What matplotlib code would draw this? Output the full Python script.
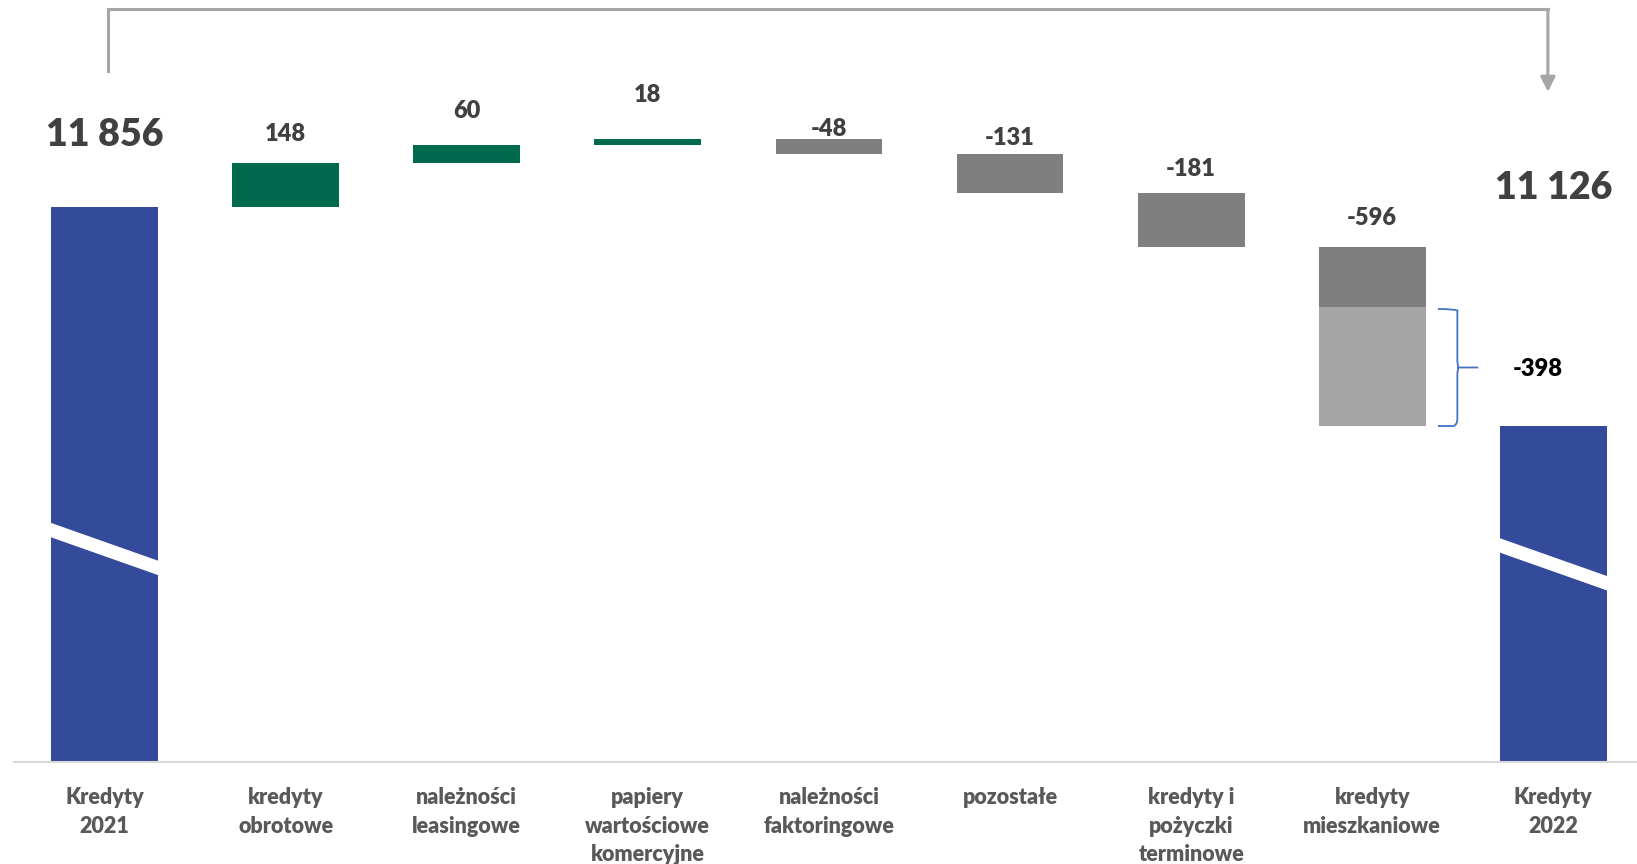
import numpy as np
import matplotlib
matplotlib.use("Agg")
import matplotlib.pyplot as plt
from matplotlib.path import Path
from matplotlib.patches import PathPatch

plt.rcParams['font.family'] = ['Lato', 'DejaVu Sans']

# data
categories = ["Kredyty\n2021", "kredyty\nobrotowe", "należności\nleasingowe",
              "papiery\nwartościowe\nkomercyjne", "należności\nfaktoringowe",
              "pozostałe", "kredyty i\npożyczki\nterminowe", "kredyty\nmieszkaniowe",
              "Kredyty\n2022"]
start_total = 11856
changes = [148, 60, 18, -48, -131, -181, -596]
end_total = 11126
mieszk_part = -398   # lighter part of "kredyty mieszkaniowe"

# style
blue = "#344A9A"
green = "#006A4E"
dgrey = "#7F7F7F"
lgrey = "#A5A5A5"
txt = "#404040"
bw = 0.59
wt = 'heavy'
label_gap_px = [72, 29, 34, 44, 10, 16, 24, 29, 238]

fig = plt.figure(figsize=(16.37, 8.64), dpi=100)
ax = fig.add_axes([14/1637, 102/864, 1 - 14/1637, 1 - 102/864])
ax.set_xlim(-0.5, 8.462)
ax.set_ylim(10006, 12546)

n = len(categories)
x = np.arange(n)

# totals
ax.bar([0, n-1], [start_total, end_total], width=bw, color=blue, zorder=2)

# changes
cum = start_total
tops = [start_total]
for i, d in enumerate(changes):
    xi = i + 1
    lo, hi = min(cum, cum + d), max(cum, cum + d)
    if d > 0:
        ax.bar(xi, hi - lo, bottom=lo, width=bw, color=green, zorder=2)
    elif i == len(changes) - 1:
        split = cum + d - mieszk_part
        ax.bar(xi, cum - split, bottom=split, width=bw, color=dgrey, zorder=2)
        ax.bar(xi, -mieszk_part, bottom=lo, width=bw, color=lgrey, zorder=2)
    else:
        ax.bar(xi, hi - lo, bottom=lo, width=bw, color=dgrey, zorder=2)
    tops.append(hi)
    cum += d
tops.append(end_total)

# value labels
vals = [start_total] + changes + [end_total]
for i, v in enumerate(vals):
    s = f"{v:,}".replace(",", " ")
    big = i in (0, n - 1)
    ax.annotate(s, (i, tops[i]), xytext=(0, label_gap_px[i]), textcoords='offset pixels',
                ha='center', va='center', fontsize=27 if big else 17,
                fontweight=wt, color=txt)

# brace + -398 label
y_lo = end_total
y_hi = end_total - mieszk_part - 8
ym = (y_lo + y_hi) / 2
bx0, bx1, bx2 = 7.363, 7.47, 7.585
verts = [(bx0, y_hi), (bx1 - 0.02, y_hi), (bx1, y_hi - 5), (bx1, y_hi - 25),
         (bx1, ym + 20), (bx1, ym + 20), (bx1 + 0.005, ym),
         (bx2, ym),
         (bx1 + 0.005, ym), (bx1, ym - 20), (bx1, ym - 20),
         (bx1, y_lo + 25), (bx1, y_lo + 5), (bx1 - 0.02, y_lo), (bx0, y_lo)]
codes = [Path.MOVETO, Path.CURVE3, Path.CURVE3, Path.LINETO,
         Path.LINETO, Path.CURVE3, Path.CURVE3,
         Path.LINETO,
         Path.MOVETO, Path.CURVE3, Path.CURVE3,
         Path.LINETO, Path.CURVE3, Path.CURVE3, Path.LINETO]
ax.add_patch(PathPatch(Path(verts, codes), fill=False, edgecolor="#4472C4", lw=1.3, zorder=3))
ax.text(7.913, ym - 5, f"{mieszk_part}", ha='center', va='center', fontsize=17,
        fontweight=wt, color='black')

# axis break stripes on the total bars
break_left = [10781, 10730]
drop, thick = 130, 48
for xi, yb in zip([0, n-1], break_left):
    xs = [xi - bw/2 - 0.01, xi + bw/2 + 0.01, xi + bw/2 + 0.01, xi - bw/2 - 0.01]
    ys = [yb + thick/2, yb + thick/2 - drop, yb - thick/2 - drop, yb - thick/2]
    ax.fill(xs, ys, color='white', lw=0, zorder=3)

# bracket arrow from 2021 to 2022
agrey = "#A6A6A6"
ax.plot([0.02, 0.02, 7.97], [12311, 12515, 12515], color=agrey, lw=2.2,
        solid_joinstyle='miter', clip_on=False, zorder=2)
ax.annotate('', xy=(7.97, 12240), xytext=(7.97, 12515),
            arrowprops=dict(arrowstyle='-|>', color=agrey, lw=2.2,
                            mutation_scale=22, shrinkA=0, shrinkB=0))

# axes styling
for s in ['top', 'right', 'left']:
    ax.spines[s].set_visible(False)
ax.spines['bottom'].set_color("#D9D9D9")
ax.spines['bottom'].set_linewidth(1.5)
ax.set_yticks([])
ax.set_xticks(x)
ax.set_xticklabels(categories, fontsize=15.5, fontweight=wt, color="#595959",
                   linespacing=1.45)
ax.tick_params(axis='x', length=0, pad=18)

fig.savefig("out.png", dpi=100)
